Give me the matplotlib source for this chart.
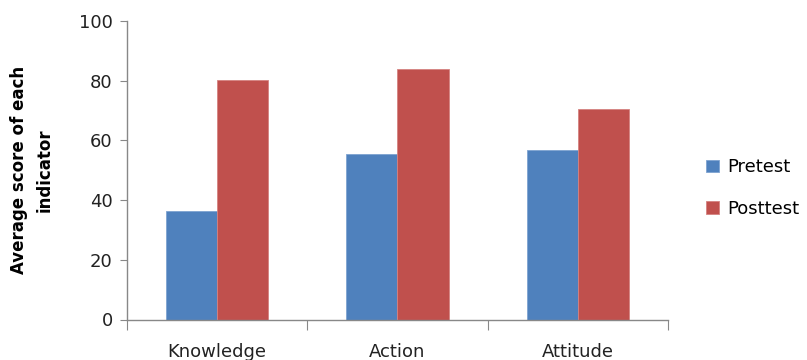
import matplotlib
matplotlib.use("Agg")
import matplotlib.pyplot as plt
import numpy as np

# data
categories = ["Knowledge", "Action", "Attitude"]
pretest = [36.3, 55.5, 56.8]
posttest = [80.2, 83.9, 70.6]
series_names = ["Pretest", "Posttest"]
y_ticks = [0, 20, 40, 60, 80, 100]

plt.rcParams['font.family'] = ['DejaVu Sans']

fig = plt.figure(figsize=(8.07, 3.6), dpi=100)
ax = fig.add_axes([0.157, 0.1125, 0.671, 0.829])

x = np.arange(len(categories))
w = 0.285
ax.bar(x - w / 2, pretest, w, color="#4F81BD", edgecolor="#7EA3D1",
       linewidth=0.6, label=series_names[0])
ax.bar(x + w / 2, posttest, w, color="#C0504D", edgecolor="#D58280",
       linewidth=0.6, label=series_names[1])

ax.set_xlim(-0.5, len(categories) - 0.5)
ax.set_ylim(0, 100)
ax.set_yticks(y_ticks)
ax.tick_params(axis='y', labelsize=13, length=5, color="#888888",
               pad=5, labelcolor="#222222")

# category boundary ticks on x axis, labels centred under groups
ax.set_xticks(np.arange(-0.5, len(categories), 1.0))
ax.set_xticklabels([])
ax.set_xticks(x, minor=True)
ax.set_xticklabels(categories, minor=True)
ax.tick_params(axis='x', which='major', length=7, color="#888888")
ax.tick_params(axis='x', which='minor', length=0, pad=17, labelsize=13,
               labelcolor="#222222")

for side in ("top", "right"):
    ax.spines[side].set_visible(False)
for side in ("left", "bottom"):
    ax.spines[side].set_color("#888888")
    ax.spines[side].set_linewidth(1.0)

ax.set_ylabel("Average score of each\nindicator", fontsize=12,
              fontweight="bold", labelpad=18, linespacing=1.6)

ax.legend(loc="center left", bbox_to_anchor=(1.04, 0.44), frameon=False,
          fontsize=13, handlelength=0.7, handleheight=0.7,
          handletextpad=0.45, labelspacing=1.3)

fig.savefig("out.png", dpi=100)
